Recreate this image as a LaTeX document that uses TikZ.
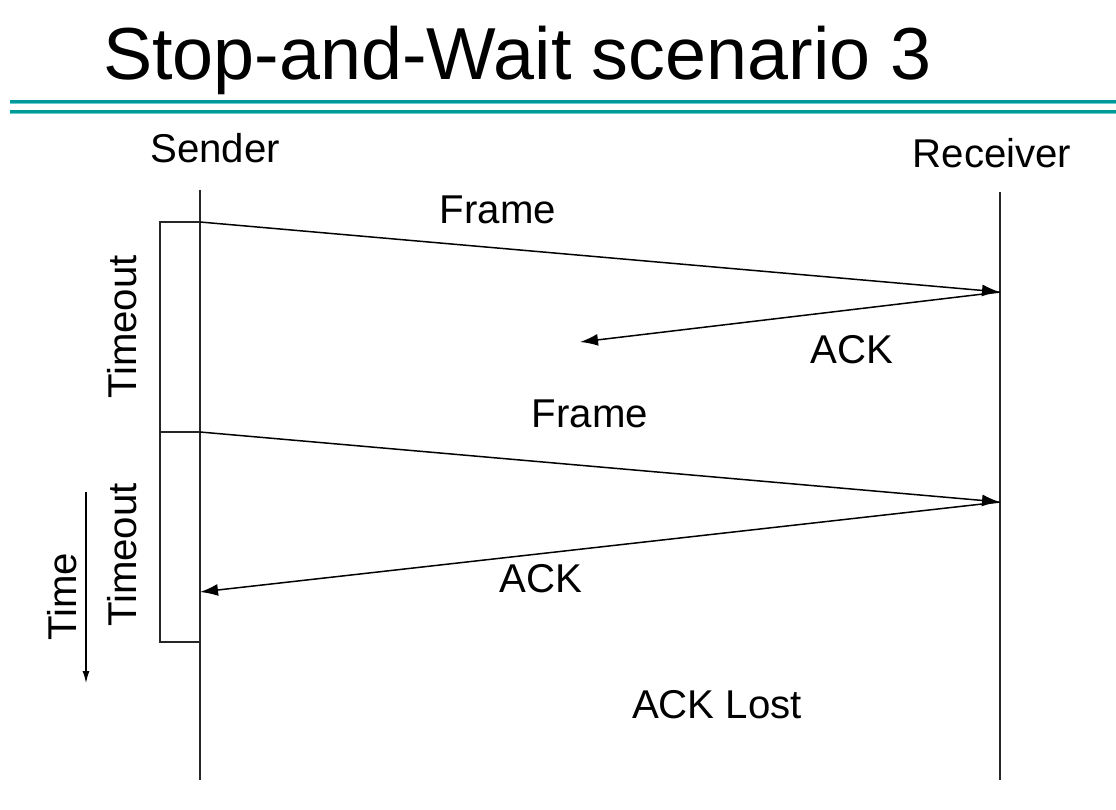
\documentclass[tikz,border=0pt]{standalone}
\usepackage{fontspec}
\setmainfont{Liberation Sans}
\usetikzlibrary{arrows.meta}
\definecolor{rule}{HTML}{009999}
\definecolor{rulelight}{HTML}{66CCCC}
\begin{document}
\begin{tikzpicture}[x=1pt,y=-1pt,
  lbl/.style={font=\fontsize{40.2}{48}\selectfont, inner sep=0pt},
  life/.style={line width=1.2pt, black!85},
  msg/.style={line width=1.5pt, -{Latex[length=18pt,width=12pt]}},
  tbox/.style={line width=1.3pt, black!85}]
\useasboundingbox (0,0) rectangle (1116,810);
% title and double rule
\node[anchor=base west, inner sep=0pt, font=\fontsize{73.7}{86}\selectfont] (title) at (103,80) {Stop-and-Wait scenario 3};
\foreach \yy in {102,112}{
  \fill[rule] (10,\yy-1.5) rectangle (1116,\yy+1);
  \fill[rulelight] (10,\yy+1) rectangle (1116,\yy+2);
}
% endpoints
\node[lbl, anchor=base] (snd) at (215,163) {Sender};
\node[lbl, anchor=base] (rcv) at (992,168) {Receiver};
\coordinate (stop) at (200,190);
\coordinate (sbot) at (200,780);
\coordinate (rtop) at (1000,192);
\coordinate (rbot) at (1000,780);
\draw[life] (stop) -- (sbot);
\draw[life] (rtop) -- (rbot);
% timeout intervals
\coordinate (t0) at (200,222);
\coordinate (t1) at (200,432);
\coordinate (t2) at (200,642);
\draw[tbox] (t0) -- ++(-40,0) |- (t1);
\draw[tbox] (t1) -- ++(-40,0) |- (t2);
\node[lbl, rotate=90] (to1) at (122,327) {Timeout};
\node[lbl, rotate=90] (to2) at (122,555) {Timeout};
% messages
\coordinate (r1) at (1000,292);
\coordinate (a1) at (580,342);
\coordinate (r2) at (1000,502);
\coordinate (s2) at (200,592);
\draw[msg] (t0) -- (r1);
\node[lbl] (f1) at (498,210) {Frame};
\draw[msg] (r1) -- (a1);
\node[lbl] (k1) at (852,350) {ACK};
\draw[msg] (t1) -- (r2);
\node[lbl] (f2) at (590,414) {Frame};
\draw[msg] (r2) -- (s2);
\node[lbl] (k2) at (541,579) {ACK};
\node[lbl] (lost) at (717,705) {ACK Lost};
% time axis
\coordinate (ta) at (86,492);
\coordinate (tb) at (86,683);
\draw[line width=1.2pt, -{Latex[length=12pt,width=7pt]}] (ta) -- (tb);
\node[lbl, rotate=90] (time) at (62,597) {Time};
\end{tikzpicture}
\end{document}
